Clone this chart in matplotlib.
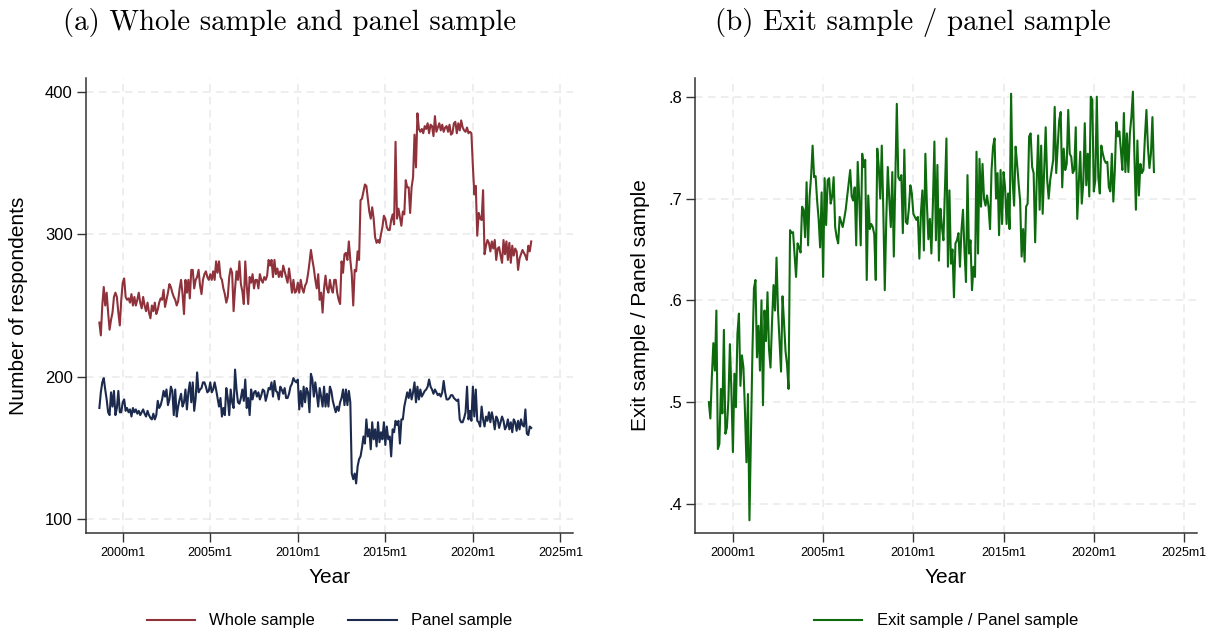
import numpy as np
import matplotlib
matplotlib.use("Agg")
import matplotlib.pyplot as plt

plt.rcParams['font.family'] = ['Liberation Sans', 'DejaVu Sans']

# monthly series, first month 1998m9
start_year, start_month = 1998, 9

whole_sample = [
    238, 229, 250, 263,
    250, 259, 245, 233, 240, 245, 256, 259, 256, 245, 236, 254,
    266, 269, 256, 254, 255, 252, 258, 250, 256, 250, 254, 259,
    252, 248, 256, 250, 246, 252, 245, 241, 250, 246, 252, 244,
    247, 252, 255, 254, 261, 249, 254, 259, 265, 263, 259, 256,
    254, 250, 253, 262, 268, 258, 244, 268, 259, 268, 255, 275,
    275, 262, 268, 270, 275, 264, 258, 268, 272, 274, 270, 268,
    272, 268, 274, 268, 281, 273, 281, 270, 268, 262, 258, 252,
    256, 270, 276, 273, 246, 262, 274, 268, 281, 265, 260, 251,
    281, 264, 251, 270, 266, 272, 262, 268, 268, 262, 272, 268,
    266, 270, 268, 271, 282, 278, 282, 270, 282, 272, 276, 270,
    274, 270, 278, 274, 270, 266, 276, 268, 259, 268, 259, 260,
    266, 259, 268, 262, 259, 264, 266, 272, 280, 289, 282, 276,
    268, 262, 272, 254, 259, 245, 262, 271, 262, 259, 268, 262,
    259, 268, 268, 259, 254, 251, 281, 273, 286, 287, 282, 295,
    282, 272, 250, 275, 274, 288, 282, 324, 325, 330, 335, 334,
    325, 316, 311, 319, 311, 298, 294, 296, 294, 300, 305, 313,
    311, 305, 303, 303, 310, 314, 307, 365, 311, 318, 312, 306,
    316, 314, 338, 333, 333, 315, 333, 340, 370, 347, 385, 374,
    372, 374, 371, 376, 374, 378, 371, 377, 376, 369, 383, 372,
    375, 378, 373, 377, 372, 375, 376, 372, 377, 370, 371, 378,
    379, 371, 378, 373, 380, 375, 373, 372, 375, 371, 372, 371,
    348, 328, 334, 299, 315, 311, 310, 331, 286, 292, 296, 294,
    288, 295, 290, 296, 282, 290, 291, 285, 280, 296, 286, 295,
    282, 294, 280, 292, 285, 290, 288, 275, 283, 286, 289, 287,
    285, 282, 292, 288, 295,
]

panel_sample = [
    178, 189, 196, 199,
    191, 184, 175, 173, 189, 179, 190, 173, 178, 190, 175, 175,
    182, 184, 176, 178, 175, 177, 172, 178, 175, 177, 174, 176,
    173, 175, 177, 174, 172, 176, 173, 171, 170, 174, 170, 173,
    183, 178, 180, 184, 190, 186, 191, 180, 184, 193, 190, 173,
    191, 172, 179, 184, 188, 179, 182, 191, 177, 189, 196, 182,
    196, 176, 185, 203, 189, 191, 192, 196, 196, 193, 189, 190,
    196, 189, 191, 196, 191, 185, 179, 185, 172, 178, 173, 192,
    185, 173, 191, 182, 178, 205, 191, 182, 181, 185, 191, 183,
    198, 178, 185, 173, 191, 184, 189, 190, 186, 189, 184, 187,
    191, 190, 183, 187, 192, 191, 196, 186, 197, 190, 189, 184,
    193, 191, 188, 192, 185, 185, 188, 193, 195, 199, 197, 196,
    198, 177, 190, 179, 193, 182, 192, 189, 175, 202, 198, 186,
    196, 188, 179, 192, 186, 179, 193, 179, 188, 179, 193, 190,
    183, 179, 175, 179, 176, 182, 185, 191, 180, 191, 180, 190,
    182, 132, 128, 132, 125, 137, 142, 144, 150, 158, 153, 170,
    158, 163, 149, 168, 156, 163, 151, 168, 154, 161, 156, 168,
    152, 165, 156, 158, 144, 163, 161, 169, 166, 169, 153, 170,
    170, 179, 184, 189, 185, 191, 184, 189, 196, 182, 193, 184,
    191, 186, 188, 190, 191, 193, 198, 193, 191, 188, 191, 189,
    187, 188, 186, 189, 197, 189, 184, 184, 185, 187, 187, 185,
    184, 183, 184, 170, 168, 168, 171, 175, 193, 170, 176, 169,
    193, 172, 191, 169, 168, 165, 179, 170, 165, 172, 169, 175,
    168, 175, 170, 163, 172, 170, 164, 168, 172, 169, 163, 165,
    170, 163, 168, 161, 170, 168, 162, 169, 163, 170, 166, 165,
    177, 160, 159, 165, 164,
]

exit_ratio = [
    .500, .484, .525, .558,
    .531, .590, .454, .459, .513, .489, .571, .469, .475, .502, .557, .511,
    .451, .528, .495, .567, .587, .516, .546, .534, .492, .441, .508, .384,
    .469, .551, .612, .620, .544, .575, .531, .600, .497, .590, .560, .608,
    .552, .534, .578, .615, .590, .642, .590, .560, .530, .604, .578, .550,
    .537, .513, .669, .666, .667, .645, .623, .656, .652, .647, .692, .689,
    .662, .716, .654, .702, .722, .752, .721, .722, .698, .680, .652, .706,
    .623, .720, .674, .718, .720, .695, .702, .721, .672, .662, .656, .682,
    .677, .672, .680, .689, .702, .715, .728, .702, .698, .711, .654, .736,
    .700, .654, .744, .731, .738, .620, .703, .670, .675, .672, .665, .620,
    .749, .731, .700, .752, .690, .610, .680, .731, .699, .672, .726, .643,
    .720, .793, .721, .718, .723, .666, .748, .677, .675, .690, .713, .705,
    .685, .682, .679, .682, .641, .685, .708, .649, .744, .695, .660, .680,
    .646, .695, .756, .659, .733, .639, .690, .672, .659, .708, .759, .633,
    .708, .636, .650, .603, .656, .659, .666, .633, .669, .689, .649, .618,
    .723, .646, .659, .610, .633, .623, .746, .646, .739, .692, .734, .700,
    .693, .703, .692, .670, .728, .751, .759, .700, .725, .664, .728, .675,
    .726, .711, .675, .705, .670, .803, .718, .693, .751, .734, .715, .698,
    .643, .670, .638, .692, .695, .761, .764, .731, .725, .657, .716, .762,
    .689, .752, .685, .728, .770, .718, .700, .718, .728, .738, .790, .725,
    .751, .777, .785, .711, .749, .728, .734, .787, .744, .741, .725, .728,
    .770, .680, .715, .746, .695, .715, .774, .713, .744, .702, .800, .797,
    .707, .718, .800, .721, .705, .752, .744, .738, .735, .736, .711, .707,
    .744, .697, .728, .775, .761, .766, .748, .728, .784, .726, .764, .726,
    .764, .780, .805, .743, .689, .757, .703, .734, .725, .728, .760, .787,
    .751, .730, .744, .780, .726,
]

tick_years = [2000, 2005, 2010, 2015, 2020, 2025]
tick_labels = ["2000m1", "2005m1", "2010m1", "2015m1", "2020m1", "2025m1"]
left_yticks = [100, 200, 300, 400]
right_yticks = [.4, .5, .6, .7, .8]
right_ylabels = [".4", ".5", ".6", ".7", ".8"]

RED = "#8f323b"
NAVY = "#1c2a4e"
GREEN = "#0d6b0d"

months = np.arange(len(whole_sample))
t = start_year + (start_month - 1 + months) / 12


def style_axes(ax):
    for s in ["top", "right"]:
        ax.spines[s].set_visible(False)
    for s in ["left", "bottom"]:
        ax.spines[s].set_color("#333333")
        ax.spines[s].set_linewidth(1.1)
    ax.grid(True, color="#e9e9e9", linestyle=(0, (5, 3.5)), linewidth=1.1)
    ax.set_axisbelow(True)
    ax.set_xlim(1997.9, 2025.72)
    ax.set_xticks(tick_years)
    ax.set_xticklabels(tick_labels, fontsize=9)
    ax.tick_params(axis="both", direction="out", length=6.5, width=1, color="#333333", pad=3)
    ax.tick_params(axis="x", pad=4)
    ax.tick_params(axis="y", labelsize=12)
    ax.set_xlabel("Year", fontsize=15)
    ax.xaxis.set_label_coords(0.5, -0.077)


fig = plt.figure(figsize=(12.14, 6.32), dpi=100)

ax1 = fig.add_axes([0.0708, 0.1571, 0.4012, 0.7195])
ax1.plot(t, whole_sample, color=RED, lw=1.5, label="Whole sample")
ax1.plot(t, panel_sample, color=NAVY, lw=1.5, label="Panel sample")
style_axes(ax1)
ax1.set_ylim(90.4, 409.8)
ax1.set_yticks(left_yticks)
ax1.set_ylabel("Number of respondents", fontsize=15)
ax1.yaxis.set_label_coords(-0.119, 0.5)
ax1.legend(loc="center", bbox_to_anchor=(0.5, -0.194), ncol=2, frameon=False,
           fontsize=12, handlelength=2.9, handletextpad=0.85, columnspacing=2.0)

ax2 = fig.add_axes([0.5725, 0.1571, 0.4135, 0.7195])
ax2.plot(t, exit_ratio, color=GREEN, lw=1.5, label="Exit sample / Panel sample")
style_axes(ax2)
ax2.set_ylim(0.3718, 0.8184)
ax2.set_yticks(right_yticks)
ax2.set_yticklabels(right_ylabels)
ax2.set_ylabel("Exit sample / Panel sample", fontsize=15)
ax2.yaxis.set_label_coords(-0.09, 0.5)
ax2.legend(loc="center", bbox_to_anchor=(0.5, -0.194), ncol=1, frameon=False,
           fontsize=12, handlelength=2.9, handletextpad=0.85)

fig.text(0.2385, 0.965, "(a) Whole sample and panel sample", family="cmr10",
         fontsize=20.8, ha="center", va="center")
fig.text(0.752, 0.965, "(b) Exit sample / panel sample", family="cmr10",
         fontsize=20.8, ha="center", va="center")

fig.savefig("out.png", dpi=100)
